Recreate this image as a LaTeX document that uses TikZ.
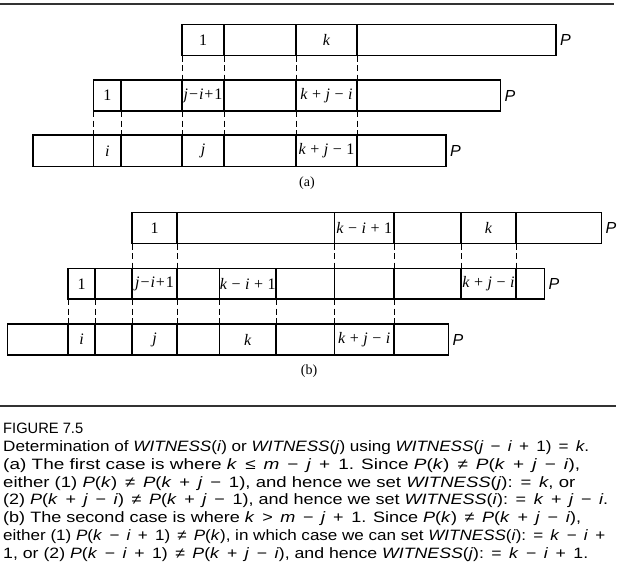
\documentclass[tikz,border=0pt]{standalone}
\usepackage{fontspec}
\setmainfont{Liberation Serif}
\newfontfamily\capfont{Liberation Sans}
\usepackage{graphicx}
\newcommand\myi[1]{\textit{#1}}
\newcommand\op[1]{\hspace{0.42em}#1\hspace{0.42em}}
\newcommand\lop[1]{\hspace{0.28em}#1\hspace{0.28em}}
\newcommand\sop[1]{\hspace{0.06em}#1\hspace{0.06em}}
\newcommand\cellbox[6]{\node[cell, minimum width={#3pt-#2pt}, minimum height={#5pt-#4pt}] (#1) at ({(#2+#3)/2},{(#4+#5)/2}) {#6};}
\newcommand\capline[4]{\node[capline] (#1) at (3,#2) {\resizebox*{#3pt}{\totalheight}{#4}};}
\tikzset{
  cell/.style={draw, line width=1.1pt, rectangle, inner sep=0pt, outer sep=0pt,
    font=\fontsize{16}{18}\selectfont},
  guide/.style={line width=0.9pt, dash pattern=on 6pt off 3.5pt},
  plabel/.style={font=\capfont\itshape\fontsize{16}{18}\selectfont, anchor=west, inner sep=0pt},
  sublabel/.style={font=\fontsize{14}{16}\selectfont, inner sep=0pt},
  capline/.style={font=\capfont\fontsize{15}{18}\selectfont, anchor=base west, inner sep=0pt},
  rule/.style={line width=1.3pt, draw=black!80}
}
\begin{document}
\begin{tikzpicture}[x=1pt,y=-1pt]
\useasboundingbox (0,0) rectangle (624,573);
\fill[white] (0,0) rectangle (624,573);
\draw[rule] (0,4) -- (614,4);
% ---------------- (a) ----------------
\cellbox{a1c1}{182}{224}{24.5}{55.5}{1}
\cellbox{a1c2}{224}{296}{24.5}{55.5}{}
\cellbox{a1c3}{296}{357}{24.5}{55.5}{\myi{k}}
\cellbox{a1c4}{357}{556}{24.5}{55.5}{}
\cellbox{a2c1}{93.5}{121}{80}{111}{1}
\cellbox{a2c2}{121}{182}{80}{111}{}
\cellbox{a2c3}{182}{224}{80}{111}{\myi{j}\sop{−}\myi{i}\sop{+}1}
\cellbox{a2c4}{224}{296}{80}{111}{}
\cellbox{a2c5}{296}{357}{80}{111}{\myi{k}\lop{+}\myi{j}\lop{−}\myi{i}}
\cellbox{a2c6}{357}{500.5}{80}{111}{}
\cellbox{a3c1}{33}{93.5}{135}{166.5}{}
\cellbox{a3c2}{93.5}{121}{135}{166.5}{\myi{i}}
\cellbox{a3c3}{121}{182}{135}{166.5}{}
\cellbox{a3c4}{182}{224}{135}{166.5}{\myi{j}}
\cellbox{a3c5}{224}{296}{135}{166.5}{}
\cellbox{a3c6}{296}{357}{135}{166.5}{\myi{k}\lop{+}\myi{j}\lop{−}1}
\cellbox{a3c7}{357}{446}{135}{166.5}{}
\node[plabel] (pa1) at ([xshift=4pt]a1c4.east) {P};
\node[plabel] (pa2) at ([xshift=4pt]a2c6.east) {P};
\node[plabel] (pa3) at ([xshift=4pt]a3c7.east) {P};
\draw[guide] (a1c1.south west) -- (a2c3.north west);
\draw[guide] (a1c1.south east) -- (a2c3.north east);
\draw[guide] (a1c3.south west) -- (a2c5.north west);
\draw[guide] (a1c3.south east) -- (a2c5.north east);
\draw[guide] (a2c1.south west) -- (a3c2.north west);
\draw[guide] (a2c1.south east) -- (a3c2.north east);
\draw[guide] (a2c3.south west) -- (a3c4.north west);
\draw[guide] (a2c3.south east) -- (a3c4.north east);
\draw[guide] (a2c5.south west) -- (a3c6.north west);
\draw[guide] (a2c5.south east) -- (a3c6.north east);
\node[sublabel] (la) at (307,183) {(a)};
% ---------------- (b) ----------------
\cellbox{b1c1}{132}{177}{212.5}{243.5}{1}
\cellbox{b1c2}{177}{334.5}{212.5}{243.5}{}
\cellbox{b1c3}{334.5}{394}{212.5}{243.5}{\myi{k}\lop{−}\myi{i}\lop{+}1}
\cellbox{b1c4}{394}{461}{212.5}{243.5}{}
\cellbox{b1c5}{461}{516}{212.5}{243.5}{\myi{k}}
\cellbox{b1c6}{516}{601.5}{212.5}{243.5}{}
\cellbox{b2c1}{68}{95}{268.5}{299}{1}
\cellbox{b2c2}{95}{132}{268.5}{299}{}
\cellbox{b2c3}{132}{177}{268.5}{299}{\myi{j}\sop{−}\myi{i}\sop{+}1}
\cellbox{b2c4}{177}{219.5}{268.5}{299}{}
\cellbox{b2c5}{219.5}{276}{268.5}{299}{\myi{k}\lop{−}\myi{i}\lop{+}1}
\cellbox{b2c6}{276}{334.5}{268.5}{299}{}
\cellbox{b2c7}{334.5}{394}{268.5}{299}{}
\cellbox{b2c8}{394}{461}{268.5}{299}{}
\cellbox{b2c9}{461}{516}{268.5}{299}{\myi{k}\lop{+}\myi{j}\lop{−}\myi{i}}
\cellbox{b2c10}{516}{544.5}{268.5}{299}{}
\cellbox{b3c1}{7.5}{68}{324}{355}{}
\cellbox{b3c2}{68}{95}{324}{355}{\myi{i}}
\cellbox{b3c3}{95}{132}{324}{355}{}
\cellbox{b3c4}{132}{177}{324}{355}{\myi{j}}
\cellbox{b3c5}{177}{219.5}{324}{355}{}
\cellbox{b3c6}{219.5}{276}{324}{355}{\myi{k}}
\cellbox{b3c7}{276}{334.5}{324}{355}{}
\cellbox{b3c8}{334.5}{394}{324}{355}{\myi{k}\lop{+}\myi{j}\lop{−}\myi{i}}
\cellbox{b3c9}{394}{448.5}{324}{355}{}
\node[plabel] (pb1) at ([xshift=4pt]b1c6.east) {P};
\node[plabel] (pb2) at ([xshift=4pt]b2c10.east) {P};
\node[plabel] (pb3) at ([xshift=4pt]b3c9.east) {P};
\draw[guide] (b1c1.south west) -- (b2c3.north west);
\draw[guide] (b1c1.south east) -- (b2c3.north east);
\draw[guide] (b1c3.south west) -- (b2c7.north west);
\draw[guide] (b1c3.south east) -- (b2c7.north east);
\draw[guide] (b1c5.south west) -- (b2c9.north west);
\draw[guide] (b1c5.south east) -- (b2c9.north east);
\draw[guide] (b2c1.south west) -- (b3c2.north west);
\draw[guide] (b2c1.south east) -- (b3c2.north east);
\draw[guide] (b2c3.south west) -- (b3c4.north west);
\draw[guide] (b2c3.south east) -- (b3c4.north east);
\draw[guide] (b2c5.south west) -- (b3c6.north west);
\draw[guide] (b2c5.south east) -- (b3c6.north east);
\draw[guide] (b2c7.south west) -- (b3c8.north west);
\draw[guide] (b2c7.south east) -- (b3c8.north east);
\node[sublabel] (lb) at (309,371) {(b)};
% ---------------- caption ----------------
\draw[rule] (0,406) -- (616,406);
\capline{c1}{433.3}{80}{FIGURE 7.5}
\capline{c2}{451.2}{586}{Determination of \myi{WITNESS}(\myi{i}) or \myi{WITNESS}(\myi{j}) using \myi{WITNESS}(\myi{j}\op{−}\myi{i}\op{+}1)\op{=}\myi{k}.}
\capline{c3}{469.1}{577}{(a) The first case is where \myi{k}\op{≤}\myi{m}\op{−}\myi{j}\op{+}1. Since \myi{P}(\myi{k})\op{≠}\myi{P}(\myi{k}\op{+}\myi{j}\op{−}\myi{i}),}
\capline{c4}{487}{572}{either (1) \myi{P}(\myi{k})\op{≠}\myi{P}(\myi{k}\op{+}\myi{j}\op{−}1), and hence we set \myi{WITNESS}(\myi{j}):\op{=}\myi{k}, or}
\capline{c5}{504.9}{605}{(2) \myi{P}(\myi{k}\op{+}\myi{j}\op{−}\myi{i})\op{≠}\myi{P}(\myi{k}\op{+}\myi{j}\op{−}1), and hence we set \myi{WITNESS}(\myi{i}):\op{=}\myi{k}\op{+}\myi{j}\op{−}\myi{i}.}
\capline{c6}{522.8}{578}{(b) The second case is where \myi{k}\op{>}\myi{m}\op{−}\myi{j}\op{+}1. Since \myi{P}(\myi{k})\op{≠}\myi{P}(\myi{k}\op{+}\myi{j}\op{−}\myi{i}),}
\capline{c7}{540.7}{602}{either (1) \myi{P}(\myi{k}\op{−}\myi{i}\op{+}1)\op{≠}\myi{P}(\myi{k}), in which case we can set \myi{WITNESS}(\myi{i}):\op{=}\myi{k}\op{−}\myi{i}\hspace{0.42em}+}
\capline{c8}{558.6}{585}{1, or (2) \myi{P}(\myi{k}\op{−}\myi{i}\op{+}1)\op{≠}\myi{P}(\myi{k}\op{+}\myi{j}\op{−}\myi{i}), and hence \myi{WITNESS}(\myi{j}):\op{=}\myi{k}\op{−}\myi{i}\op{+}1.}
\end{tikzpicture}
\end{document}
